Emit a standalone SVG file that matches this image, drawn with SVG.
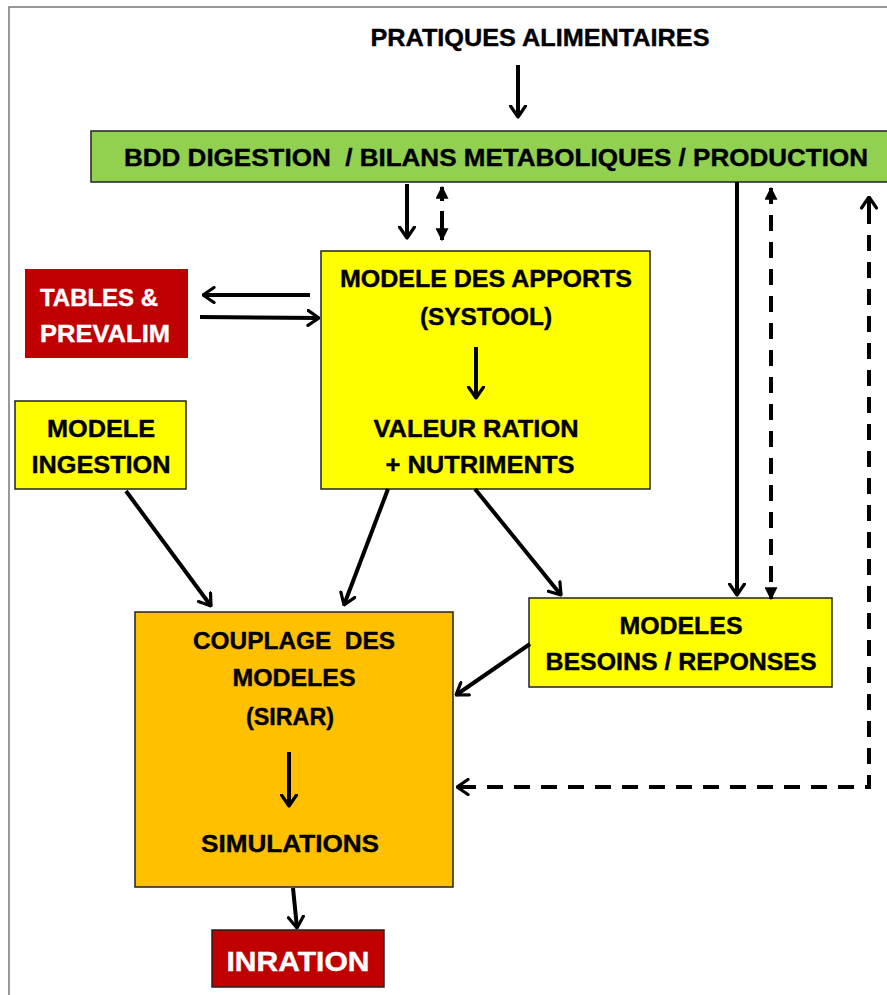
<svg xmlns="http://www.w3.org/2000/svg" width="887" height="995" viewBox="0 0 887 995">
<style>
.t{font-family:"Liberation Sans",Arial,sans-serif;font-weight:bold;font-size:24px;fill:#000;text-anchor:middle;white-space:pre;stroke:#000;stroke-width:0.4}
.w{fill:#fff;stroke:#fff}
.box{stroke:#222;stroke-width:1.5}
.c{stroke:#000;stroke-width:4;fill:none}
.d{stroke-dasharray:16 11}
</style>
<defs>
<marker id="v" viewBox="0 0 14 18" refX="12.5" refY="9" markerWidth="14" markerHeight="18" markerUnits="userSpaceOnUse" orient="auto">
<path d="M1.5,1.5 L12.5,9 L1.5,16.5" fill="none" stroke="#000" stroke-width="3.2" stroke-linecap="round" stroke-linejoin="round"/>
</marker>
<marker id="tri" viewBox="0 0 10 10" refX="9" refY="5" markerWidth="13" markerHeight="13" markerUnits="userSpaceOnUse" orient="auto-start-reverse">
<path d="M0,0 L10,5 L0,10 Z" fill="#000"/>
</marker>
</defs>
<rect width="887" height="995" fill="#fff"/>
<path d="M9,995 V7 H887" fill="none" stroke="#777" stroke-width="1.5"/>

<g id="pratiques">
<text class="t" x="540" y="46" textLength="339" lengthAdjust="spacingAndGlyphs">PRATIQUES ALIMENTAIRES</text>
</g>
<g id="bdd">
<rect class="box" x="91" y="131" width="800" height="51" fill="#92d050"/>
<text class="t" x="496" y="166" textLength="744" lengthAdjust="spacingAndGlyphs" xml:space="preserve">BDD DIGESTION  / BILANS METABOLIQUES / PRODUCTION</text>
</g>
<g id="apports">
<rect class="box" x="321" y="251" width="329" height="238" fill="#ffff00"/>
<text class="t" x="486" y="287" textLength="292" lengthAdjust="spacingAndGlyphs">MODELE DES APPORTS</text>
<text class="t" x="486" y="325" textLength="132" lengthAdjust="spacingAndGlyphs">(SYSTOOL)</text>
<text class="t" x="476" y="437" textLength="205" lengthAdjust="spacingAndGlyphs">VALEUR RATION</text>
<text class="t" x="480" y="473" textLength="189" lengthAdjust="spacingAndGlyphs">+ NUTRIMENTS</text>
</g>
<g id="tables">
<rect x="25" y="269" width="163" height="89" fill="#c00000"/>
<text class="t w" x="40" y="306" style="text-anchor:start" textLength="118" lengthAdjust="spacingAndGlyphs">TABLES &amp;</text>
<text class="t w" x="40" y="342" style="text-anchor:start" textLength="130" lengthAdjust="spacingAndGlyphs">PREVALIM</text>
</g>
<g id="ingestion">
<rect class="box" x="15" y="401" width="171" height="88" fill="#ffff00"/>
<text class="t" x="101" y="437" textLength="108" lengthAdjust="spacingAndGlyphs">MODELE</text>
<text class="t" x="101" y="473" textLength="139" lengthAdjust="spacingAndGlyphs">INGESTION</text>
</g>
<g id="couplage">
<rect class="box" x="135" y="612" width="318" height="275" fill="#ffc000"/>
<text class="t" x="294" y="649" textLength="202" lengthAdjust="spacingAndGlyphs" xml:space="preserve">COUPLAGE  DES</text>
<text class="t" x="294" y="686" textLength="123" lengthAdjust="spacingAndGlyphs">MODELES</text>
<text class="t" x="290" y="725" textLength="88" lengthAdjust="spacingAndGlyphs">(SIRAR)</text>
<text class="t" x="290" y="852" textLength="178" lengthAdjust="spacingAndGlyphs">SIMULATIONS</text>
</g>
<g id="besoins">
<rect class="box" x="529" y="598" width="303" height="89" fill="#ffff00"/>
<text class="t" x="681" y="634" textLength="123" lengthAdjust="spacingAndGlyphs">MODELES</text>
<text class="t" x="681" y="670" textLength="271" lengthAdjust="spacingAndGlyphs">BESOINS / REPONSES</text>
</g>
<g id="inration">
<rect class="box" x="212" y="930" width="172" height="57" fill="#c00000"/>
<text class="t w" x="298" y="971" style="font-size:28px" textLength="143" lengthAdjust="spacingAndGlyphs">INRATION</text>
</g>

<g id="connectors">
<line class="c" x1="518" y1="65" x2="518" y2="117" marker-end="url(#v)"/>
<line class="c" x1="407" y1="184" x2="407" y2="238" marker-end="url(#v)"/>
<line class="c" x1="442" y1="187" x2="442" y2="201" stroke-width="3.5" marker-start="url(#tri)"/>
<line class="c" x1="442" y1="211" x2="442" y2="240" stroke-width="3.5" marker-end="url(#tri)"/>
<line class="c" x1="310" y1="295" x2="203" y2="295" marker-end="url(#v)"/>
<line class="c" x1="200" y1="317" x2="319" y2="318" marker-end="url(#v)"/>
<line class="c" x1="476" y1="347" x2="476" y2="398" marker-end="url(#v)"/>
<line class="c" x1="126" y1="491" x2="211" y2="606" marker-end="url(#v)"/>
<line class="c" x1="388" y1="489" x2="344" y2="605" marker-end="url(#v)"/>
<line class="c" x1="475" y1="489" x2="561" y2="595" marker-end="url(#v)"/>
<line class="c" x1="530" y1="644" x2="456" y2="695" marker-end="url(#v)"/>
<line class="c" x1="737" y1="182" x2="737" y2="595" marker-end="url(#v)"/>
<line class="c d" x1="771" y1="188" x2="771" y2="599" stroke-width="3.5" marker-start="url(#tri)" marker-end="url(#tri)"/>
<polyline class="c d" points="869,208 869,787 470,787"/>
<line class="c" x1="869" y1="215" x2="869" y2="197" marker-end="url(#v)"/>
<line class="c" x1="472" y1="787" x2="457" y2="787" marker-end="url(#v)"/>
<line class="c" x1="289" y1="752" x2="289" y2="806" marker-end="url(#v)"/>
<line class="c" x1="293" y1="888" x2="297" y2="928" marker-end="url(#v)"/>
</g>
</svg>
